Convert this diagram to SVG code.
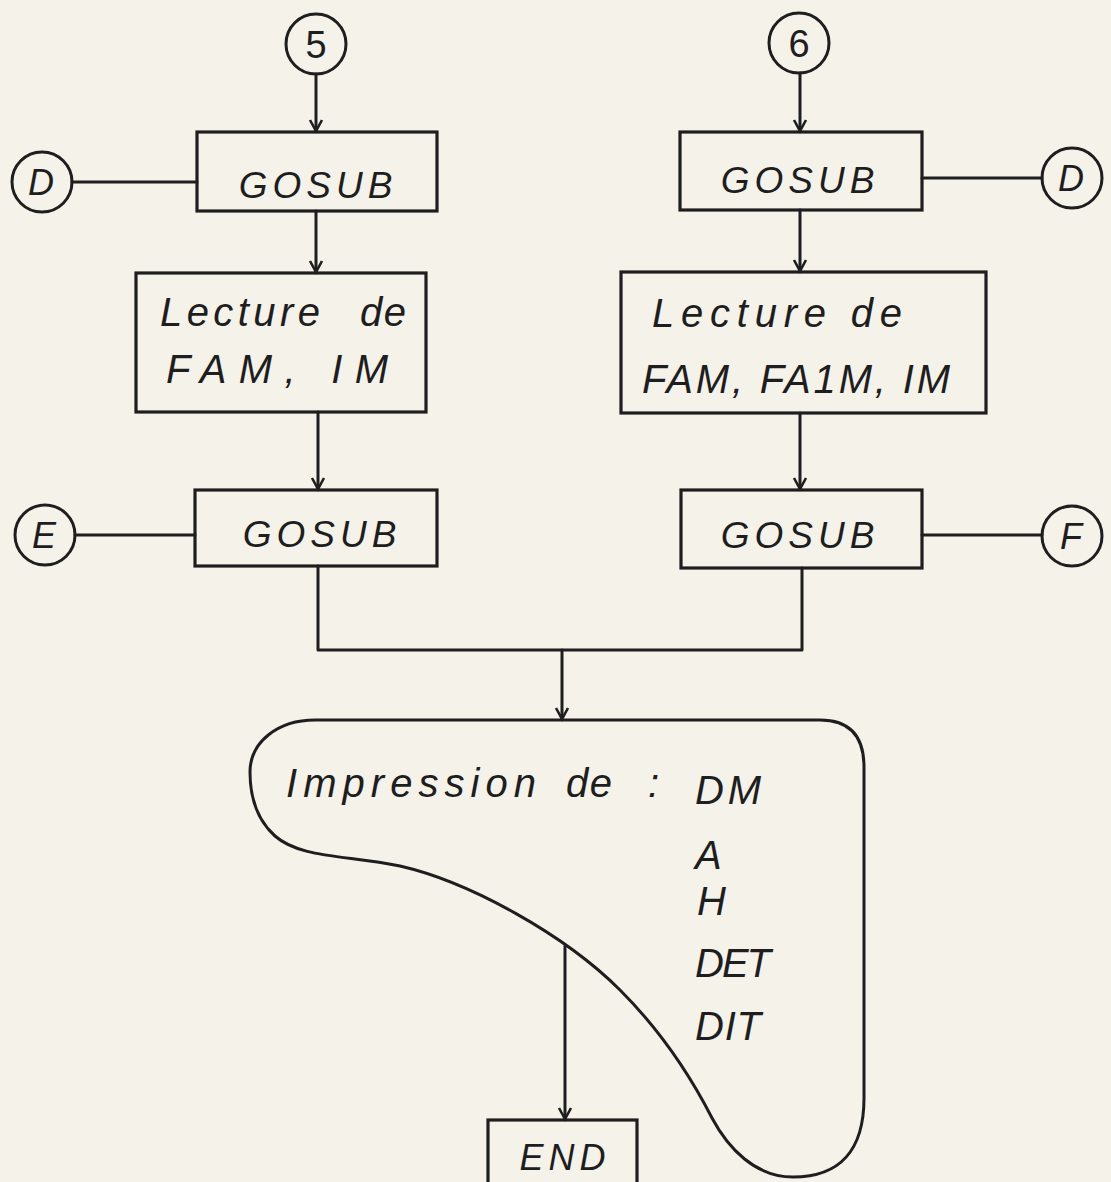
<svg xmlns="http://www.w3.org/2000/svg" width="1111" height="1182" viewBox="0 0 1111 1182">
<style>
.ln{fill:none;stroke:#1e1e1e;stroke-width:3;stroke-linecap:round;stroke-linejoin:round}
.bx{fill:none;stroke:#1e1e1e;stroke-width:3.2}
.t{font-family:"Liberation Sans","DejaVu Sans",sans-serif;font-style:italic;fill:#1e1e1e}
.g{font-size:37px;letter-spacing:5px;text-anchor:middle}
.l{font-size:40px}
.c{font-size:36px;text-anchor:middle}
.p{font-size:40px}
</style>
<defs>
<marker id="ah" markerWidth="16" markerHeight="16" refX="13" refY="8" orient="auto" markerUnits="userSpaceOnUse">
<path d="M2,2 L13,8 L2,14" fill="none" stroke="#1e1e1e" stroke-width="2.6"/>
</marker>
</defs>
<rect width="1111" height="1182" fill="#f5f2ea"/>

<g id="connectors">
<line class="ln" x1="316" y1="74" x2="316" y2="131" marker-end="url(#ah)"/>
<line class="ln" x1="72" y1="182" x2="197" y2="182"/>
<line class="ln" x1="316" y1="211" x2="316" y2="272" marker-end="url(#ah)"/>
<line class="ln" x1="318" y1="412" x2="318" y2="489" marker-end="url(#ah)"/>
<line class="ln" x1="75" y1="535" x2="195" y2="535"/>
<line class="ln" x1="800" y1="73" x2="800" y2="131" marker-end="url(#ah)"/>
<line class="ln" x1="922" y1="178" x2="1042" y2="178"/>
<line class="ln" x1="800" y1="210" x2="800" y2="271" marker-end="url(#ah)"/>
<line class="ln" x1="800" y1="413" x2="800" y2="489" marker-end="url(#ah)"/>
<line class="ln" x1="922" y1="535" x2="1042" y2="535"/>
<polyline class="ln" points="318,566 318,650 802,650 802,568"/>
<line class="ln" x1="562" y1="650" x2="562" y2="719" marker-end="url(#ah)"/>
<line class="ln" x1="565" y1="946" x2="565" y2="1119" marker-end="url(#ah)"/>
</g>

<g id="c5"><circle class="ln" cx="316" cy="44" r="30"/><text class="t c" x="316" y="58" style="font-style:normal;font-size:38px">5</text></g>
<g id="c6"><circle class="ln" cx="799" cy="43" r="30"/><text class="t c" x="799" y="57" style="font-style:normal;font-size:38px">6</text></g>

<g id="gosub-l1"><rect class="bx" x="197" y="132" width="240" height="79"/><text class="t g" x="318" y="198">GOSUB</text></g>
<g id="d-left"><circle class="ln" cx="42" cy="182" r="30"/><text class="t c" x="41" y="195">D</text></g>

<g id="lecture-l"><rect class="bx" x="136" y="273" width="290" height="139"/>
<text class="t l" x="160" y="326" textLength="160" lengthAdjust="spacing">Lecture</text>
<text class="t l" x="360" y="326" textLength="46" lengthAdjust="spacing">de</text>
<text class="t l" x="166" y="383" textLength="222" lengthAdjust="spacing">FAM, IM</text></g>

<g id="gosub-l2"><rect class="bx" x="195" y="490" width="242" height="76"/><text class="t g" x="322" y="547">GOSUB</text></g>
<g id="e-left"><circle class="ln" cx="45" cy="535" r="30"/><text class="t c" x="44" y="548">E</text></g>

<g id="gosub-r1"><rect class="bx" x="680" y="132" width="242" height="78"/><text class="t g" x="800" y="193">GOSUB</text></g>
<g id="d-right"><circle class="ln" cx="1072" cy="178" r="30"/><text class="t c" x="1071" y="191">D</text></g>

<g id="lecture-r"><rect class="bx" x="621" y="272" width="365" height="141"/>
<text class="t l" x="652" y="327" textLength="250" lengthAdjust="spacing">Lecture de</text>
<text class="t l" x="642" y="393" textLength="308" lengthAdjust="spacing">FAM, FA1M, IM</text></g>

<g id="gosub-r2"><rect class="bx" x="681" y="490" width="241" height="78"/><text class="t g" x="800" y="548">GOSUB</text></g>
<g id="f-right"><circle class="ln" cx="1072" cy="536" r="30"/><text class="t c" x="1071" y="549">F</text></g>

<g id="display">
<path class="ln" d="M315,720 L820,720 Q864,720 864,767 L864,1098 C864,1150 840,1177 793,1177 C755,1177 728,1148 712,1118 C690,1075 660,1030 620,990 C565,935 470,882 400,866 C345,855 300,858 275,836 C255,818 250,795 250,772 C250,742 278,720 315,720 Z"/>
<text class="t p" x="286" y="797" textLength="250" lengthAdjust="spacing">Impression</text>
<text class="t p" x="566" y="797" textLength="46" lengthAdjust="spacing">de</text>
<text class="t p" x="648" y="797">:</text>
<text class="t p" x="695" y="804" textLength="66" lengthAdjust="spacing">DM</text>
<text class="t p" x="695" y="869">A</text>
<text class="t p" x="697" y="915">H</text>
<text class="t p" x="695" y="977" textLength="76" lengthAdjust="spacing">DET</text>
<text class="t p" x="695" y="1040" textLength="66" lengthAdjust="spacing">DIT</text>
</g>

<g id="end"><rect class="bx" x="488" y="1120" width="149" height="70"/><text class="t g" x="565" y="1170" style="font-size:36px">END</text></g>
</svg>
